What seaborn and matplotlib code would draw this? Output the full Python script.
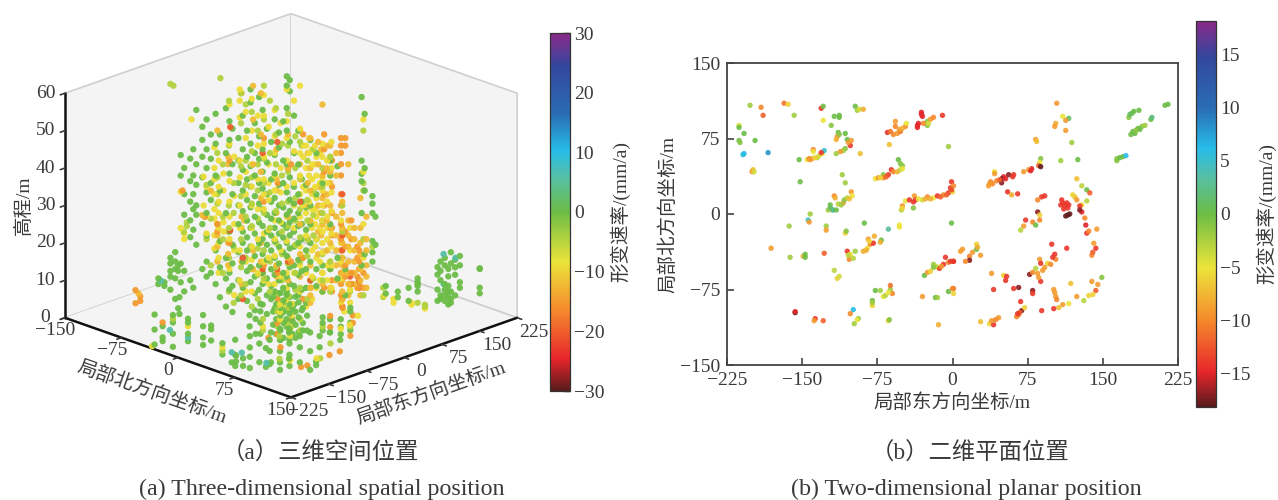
import matplotlib
matplotlib.use("Agg")
import matplotlib.pyplot as plt
import seaborn as sns
import pandas as pd
from matplotlib.colors import LinearSegmentedColormap, Normalize
from matplotlib.cm import ScalarMappable

# ---------- panel (b): east, north, rate ----------
plan_northwest = [(-213,88,-4.5),(-213,86,0),(-208,80,0),(-213,73,0),(-212,71,-1),(-197,73,0),(-202,108,-2),(-191,106,-10),(-189,98,-12),
 (-168,110,-11),(-164,109,-6),(-158,98,-2),(-208,60,6),(-209,59,6),(-184,61,8),(-199,44,-7),(-200,42,-9),(-198,42,-4),
 (-131,105,-14),(-129,107,0),(-118,97,0),(-113,98,0),(-113,96,0),(-121,88,-1),(-129,93,-5),(-97,107,0),(-95,103,-2),(-93,104,-4),(-89,104,-8),
 (-114,81,0),(-115,77,-9),(-116,74,-8),(-113,79,-1),(-107,80,0),(-105,74,0),(-101,73,-9),(-102,68,-14),(-104,71,-9),(-107,65,-1),(-109,63,-2),(-112,62,-9),(-116,60,-2),(-92,60,-7),
 (-145,54,-5),(-143,55,-10),(-139,64,-10),(-139,62,-5),(-140,55,-8),(-135,56,-3),(-133,58,-4),(-130,60,-5),(-128,63,5),(-131,61,-14),(-153,54,0),(-142,54,-9),(-137,56,-6)]
plan_north = [(-65,81,-14),(-62,82,-11),(-59,79,-10),(-55,80,-9),(-52,82,-11),(-47,87,-10),(-46,90,-5),(-57,92,-9),(-57,87,-10),(-53,84,-9),(-50,85,-8),(-63,69,-7),
 (-31,99,-15),(-30,97,-15),(-35,88,-15),(-34,90,-15),(-25,92,-1),(-25,88,-1),(-22,94,-9),(-19,96,-10),(-10,98,-14),(-29,90,-10),(-4,67,-2),(-31,101,-15),(-35,86,-15),(-24,90,-4),
 (-77,35,-5),(-74,36,-9),(-69,39,-1),(-69,36,-10),(-64,39,-14),(-61,44,-14),(-59,42,-10),(-55,42,-8),(-52,44,-3),(-50,48,-1),(-54,54,0),(-52,50,-1),(-50,45,-5),(-66,37,-12),(-72,36,-6),
 (-110,39,-2),(-107,31,-2),(-152,32,0)]
plan_midwest = [(-124,4,-2),(-120,4,-2),(-119,4,4),(-122,9,0),(-118,18,-10),(-114,10,-3),(-109,11,-9),(-108,14,-1),(-105,16,-3),(-101,22,-9),(-100,18,-5),(-103,15,-7),(-117,16,-8),(-122,6,1),(-116,4,0),(-111,9,-2),
 (-51,4,-3),(-50,8,-10),(-47,13,-5),(-43,14,-14),(-39,12,-14),(-39,6,-1),(-38,18,-9),(-37,14,-14),(-30,14,-4),(-25,17,-10),(-19,16,-5),(-15,18,-14),(-9,19,-10),(-4,21,-14),(-2,26,-14),(-1,32,-14),(1,28,-10),(0,22,-6),
 (-34,15,-5),(-27,15,-8),(-22,15,-8),(-12,17,-12),(-6,19,-12),(-1,24,-13),(-50,6,-6),
 (-53,-11,-5),(-53,-13,-5),(-64,-15,3),(-88,-9,0),(-1,-9,0),(-142,0,-2),(-163,-12,-2),(-144,-6,5),(-143,-8,-9),(-126,-12,-2),(-126,-16,-9),(-107,-19,-6),(-106,-17,-1)]
plan_southwest = [(-181,-34,-9),(-162,-43,-2),(-149,-42,-8),(-147,-40,0),(-147,-43,0),(-128,-39,-12),
 (-105,-37,-14),(-102,-40,-5),(-103,-45,-10),(-99,-44,-3),(-97,-37,-2),(-89,-37,-8),(-85,-34,-5),(-82,-30,-10),(-84,-25,-9),(-79,-29,-14),(-78,-22,-8),(-71,-26,0),(-72,-28,-8),(-104,-41,-3),(-86,-36,-8),(-83,-27,-6),
 (-118,-56,-3),(-115,-64,-6),(-113,-62,-4),
 (-28,-61,0),(-25,-58,-9),(-22,-57,-6),(-19,-50,-2),(-15,-53,-5),(-13,-54,-14),(-9,-50,-14),(-7,-43,-14),(-4,-48,-10),(1,-47,-14),(8,-37,-9),(-17,-52,-3),(-11,-52,-9),(-19,-53,-1),(-2,-47,-14),
 (-80,-91,-6),(-80,-86,0),(-77,-76,0),(-72,-76,-2),(-69,-82,-5),(-67,-81,-3),(-62,-75,-2),(-62,-71,-11),(-60,-79,-10),(-80,-88,-2),(-64,-78,-5),
 (-30,-82,-9),(-17,-83,0),(-15,-83,-2),(-4,-77,0),(1,-74,-11),(1,-79,-6),(-14,-110,-8),
 (-157,-98,-18),(-157,-97,-15),(-137,-104,-14),(-138,-106,-9),(-129,-106,-12),(-99,-95,6),(-102,-99,-10),(-94,-104,-1),(-95,-105,-5),(-98,-109,-2),(-64,-106,-6),(-63,-105,-1)]
plan_northeast = [(104,110,-9),(110,97,-5),(116,95,1),(113,93,-9),(103,90,-8),(102,87,-9),(113,83,-9),(83,74,-9),(84,72,-7),(119,71,-2),(108,53,-2),(125,54,0),(88,55,-1),(87,51,-5),(86,48,-12),(79,45,-15),(76,44,-9),(71,42,-9),(88,47,-18),(78,43,-15),
 (42,42,-5),(42,40,-9),(51,37,-15),(49,35,-17),(56,39,-17),(61,39,-14),(49,31,-17),(44,33,-10),(38,32,-10),(36,28,-9),(55,22,-14),(59,19,-8),(65,20,-14),(53,35,-15),(47,34,-12),(40,30,-10),(37,30,-9),(60,37,-14),
 (179,100,0),(176,96,-1),(186,103,0),(198,94,0),(199,96,2),(212,108,0),(215,109,0),(180,82,0),(185,85,0),(189,87,-1),(192,88,-2),(178,79,0),(182,80,0),(177,99,1),(181,102,0),(187,84,0),(183,83,-1),
 (164,55,-1),(170,57,0),(173,58,6),(164,53,-1),(167,56,0)]
plan_east = [(124,35,-7),(129,28,-3),(134,24,0),(137,21,-12),(110,11,-14),(112,8,-14),(114,11,-14),(115,-1,-18),(109,14,-14),(116,9,-14),(111,5,-14),(113,-2,-18),(117,0,-18),(108,9,-14),(115,6,-14),
 (122,17,-7),(124,14,-9),(134,13,-3),(129,9,-6),(127,8,-14),(129,2,-15),(132,-4,-10),(133,-11,-15),(134,-19,-14),(136,-17,-10),(144,-15,-9),(127,4,-17),(120,19,-6),
 (89,17,-14),(85,14,-10),(85,2,-17),(87,-1,-6),(87,-6,-10),(80,-8,-10),(73,-6,-14),(83,-11,0),(71,-12,-9),(68,-16,-3),(92,18,-14),
 (99,-30,-14),(114,-34,-14),(141,-29,-9),(143,-34,-14),(139,-41,-10),(102,-40,-14),(103,-45,-10),(95,-49,-6),(87,-45,-9),(88,-49,-14),(83,-54,-3),(85,-59,-9),(77,-60,-17),(90,-56,-9),(88,-67,-14),
 (98,-50,-10),(92,-53,-9),(100,-43,-14),(80,-58,-10),(86,-63,-9),(140,-38,-12)]
plan_southeast = [(24,-30,-6),(24,-35,0),(10,-35,-9),(17,-42,-10),(17,-46,-17),(28,-41,-9),(13,-47,-10),(1,-47,-14),(20,-38,-9),(25,-33,-8),
 (39,-59,-9),(51,-61,-6),(54,-62,-14),(53,-66,-14),(41,-75,-14),(61,-74,-14),(66,-73,-17),(80,-76,-17),(80,-79,-14),(0,-74,-10),
 (118,-69,-7),(139,-67,-9),(149,-63,-1),(145,-70,-9),(143,-76,-12),(140,-80,-6),(136,-81,-6),(124,-82,-9),(131,-86,-3),(116,-89,-5),(110,-90,-9),(106,-93,-7),(101,-94,-14),(101,-75,-9),(103,-82,-9),(102,-78,-9),(104,-85,-10),
 (68,-87,-14),(69,-96,-17),(66,-100,-10),(64,-102,-10),(72,-93,-6),(89,-96,-14),(67,-98,-12),(65,-99,-14),
 (28,-107,-7),(37,-109,-6),(41,-110,-14),(39,-106,-9),(46,-103,-9),(43,-105,-10)]

# ---------- panel (a): strands = (north, east, [heights]) at a common rate ----------
green_strands = [(-73,-110,[43.5,38,14.5,9.5]),(-71,-106,[40,33,27.5,12.5,7]),(-67,-100,[42.5,36.5,31,26,21.5,10]),(-65,-97,[45,38,33,29,23.5,8]),(-63,-94,[55.5,41,35.5,30,27.5,19.5]),
 (-59,-88,[51,47.5,43,37.5,25,13]),(-56,-84,[53,45,40,33.5,28,22,15,11]),(-53,-80,[49,42.5,36,31.5,12]),(-50,-75,[54.5,46.5,38,18,9]),(-47,-71,[49,34,20.5,13.5,5.5]),(-43,-65,[56,44,28,16,10.5,3]),
 (-41,-61,[52.5,47.5,38.5,23,12,7.5]),(-39,-58,[50.5,41,33,19.5,14.5,8.5,1.5]),(-35,-52,[48,42,36,30,25,17.5,10,5]),(-32,-48,[54,45,39.5,34,28.5,23,20,15,8]),(-29,-44,[50,43,37,31.5,26,21.5,18,12.5,4.5]),
 (-27,-40,[61,57.5,46.5,40.5,35,29.5,24,19,13.5,9.5]),(-24,-36,[52,44,38,32.5,27,22.5,16.5,11,6.5,2]),(-21,-32,[59,48.5,42.5,36,30.5,25.5,20,14,7.5]),(-19,-28,[55.5,45,39,34.5,29,24.5,21,17,12,9,3.5]),
 (-16,-24,[50.5,41.5,33,27.5,23,19.5,15.5,10.5,6,1]),(-13,-20,[47,37,31,26.5,22,18,13,8.5,5]),(-11,-16,[53,43.5,38.5,32,28,24,20.5,16,11.5,7,2.5]),(-8,-12,[49.5,45.5,35.5,30,26,22.5,19,14.5,10,6.5,3]),
 (-5,-8,[52.5,42,36,29.5,25,21.5,17.5,12,8,4,1.5]),(-3,-4,[64.5,62,56,50,41,33.5,27.5,24,20,16.5,11,7]),(-1,-1,[63.5,60.5,47,37.5,31.5,28.5,25.5,22,18.5,13.5,9,5.5,2]),(2,3,[54,44,35,30.5,26.5,23,19,14,8.5,3.5]),
 (5,7,[50,41,33,28,24.5,20,15.5,11.5,6]),(7,11,[46,37,31,25,21,16,12.5,7.5,2]),(10,15,[35.5,29.5,23.5,18,13,8,4]),(13,19,[47.5,30,25,20,15,10]),(17,25,[44,33,21,13,8.5]),(21,31,[36,26,14,7]),(26,39,[42,38,25,13]),
 (31,46,[40.5,16,10.5]),(36,54,[13,6]),(47,70,[59,42,38.5,36.5,28,14]),(49,73,[54.5,40,34,17]),(54,81,[32.5,30.5,28,20.5,17.5,15]),(56,84,[27,19.5]),
 (63,94,[8.5,6.5]),(71,106,[7,5.5]),(78,117,[8,4.5]),(84,126,[10.5,9.5,8.5,9,7]),(97,146,[13.5,11.5,7.5,4.5]),(99,149,[15,12.5,10,6,5]),(102,153,[16,14,9,7.5,6,4.5]),(104,157,[13,11,8.5,7,5.5,3.5]),
 (106,159,[17.5,14.5,7,5,4]),(109,163,[15.5,13.5,11.5,6]),(112,168,[16.5,14,9.5,8]),(125,188,[13.2,13,8,6.5]),(-88,-132,[10.5,9]),(-84,-126,[9.5,8.5]),(-80,-120,[16,14.5,12.5,11,7.5]),(-77,-115,[17.5,15,13,10.5,5]),(-75,-112,[14,12.5,2.5]),(-74,-111,[5.5,1])]
lime_strands = [(-80,-120,[62.5]),(-78,-117,[62]),(-47,-70,[64]),(-71,-107,[23]),(-69,-104,[24.5,25.5]),(-56,-84,[35.5,21]),(-53,-80,[26.5,14]),(-49,-73,[44,37.5,33,30.5,25]),(-45,-68,[41,27,21,12]),(-41,-62,[58,46,30,24,16,7]),(-38,-57,[36,28,19,4]),
 (-33,-50,[60,52,40.5,32.5,21,13.5,6]),(-30,-45,[57,42,35.5,27,16,9]),(-26,-39,[55,44.5,37.5,30.5,24.5,13,3]),(-22,-33,[50,41,34,26.5,18.5,11.5,5]),(-18,-27,[62,53,42.5,36,28,18,10.5]),(-14,-21,[58,44,33.5,24,15,7]),(-10,-15,[56,49,41,28.5,20,13.5,6.5]),
 (-6,-9,[46.5,38,30.5,23,17,10,4]),(-2,-3,[54.5,46,39,31,24.5,14.5,6]),(3,4,[48.5,40,32,26,19.5,12,7.5]),(6,9,[47,37.5,29,21.5,15,8]),(11,16,[42,31.5,26,21,16.5,5]),(15,22,[45,34,27.5,22,10.5]),(21,31,[40,35,28,17,10]),(26,39,[43,24,15,7]),(34,51,[30,23,16]),(39,59,[9,7]),(48,72,[50,36,34,21,6]),(54,81,[19]),(61,92,[8,5.5]),(84,126,[4]),(89,133,[3.5,3])]
yellow_strands = [(-73,-110,[33.7,24]),(-71,-106,[22.5,21]),(-66,-99,[53]),(-58,-87,[37.7,30]),(-56,-84,[35,27,22.5]),(-51,-76,[45.5,40,37,33,29,26.5,22,18.5]),(-48,-72,[42,35,31,28,24,20,16,12]),(-45,-67,[38.5,34,25.5,23]),(-41,-61,[57,46.5,36.5,31,27,21,13]),(-38,-56,[43,32.5,25,18,6]),
 (-34,-51,[61,58,53.5,42,37.5,30,24,18,10]),(-30,-45,[55,48,39,33,26,15,7]),(-26,-39,[58.5,50,41,35,30,24,19,15.5,7]),(-22,-33,[54,46,37,29,21,12]),(-18,-27,[59.5,54,46.5,43,37,33,29,22.5,15,10]),(-15,-22,[51,41,36,31.5,23.5,16,9]),(-11,-16,[55.5,48.5,44,38,34,26,21,16.5,9]),
 (-7,-10,[52,40,33.5,25.5,18,11]),(-3,-4,[61,52.5,48,42,35,27,20.5,12,8]),(2,3,[58,44.5,36,30,24,12]),(6,9,[62,50.5,44,38,33,27,19,14,7]),(8,12,[46,43,35,30]),(10,15,[46,40,34,28,22,12,3]),(12,18,[48,44,38,31,26]),(14,21,[45,41,37,33,29,24,18,11,5]),(16,24,[46,41,35,29,25,19]),(17,25,[43,38,32,27,21,16,8]),(19,29,[44,36,28,24,15,10]),
 (21,31,[46.5,43,37.5,34,30,26,23,20,17.5,12,7]),(24,36,[42,36,31,27,24,21,18,14,10]),(27,40,[47,40,33.5,28.5,22.5,19,14,8]),(33,50,[26,20,15,10.5,4]),(39,59,[24,18,7.5,4]),(48,72,[53,39,25,16]),(62,93,[6]),(68,102,[5,4]),(80,120,[4,3.5]),(89,133,[2.5])]
amber_strands = [(-59,-88,[27.4]),(-53,-80,[34]),(-49,-73,[25,22,19,15,50]),(-42,-62,[43,41,23,20,17,14]),(-33,-49,[27,24,15,9,60]),(-25,-38,[62,53,41,18,13]),(-20,-30,[60,49,39,32,20,15]),(-10,-14,[45,37,34,28,14,11]),(-2,-3,[49,40,27,16,10]),(6,9,[50,41,37,25,17,11]),
 (11,17,[44,36,30,21]),(13,19,[48,40,34,26,14,8,6,4]),(18,27,[47,41,35,30,23,17]),(20,30,[45,35,28,22]),(21,31,[57,38,32,25,12,9]),(24,35,[46,40,33,26,18]),(26,39,[46,43,39,36,30,24,20,15,13,8]),(30,45,[44,38,27,22,18,14,10]),(34,51,[31,28,24,20,16,14,12,10,7,5]),(38,57,[41,26,22,19,15,12,9,6]),(42,63,[24,21,18,15,12,9]),(46,69,[32,24,20,17,13,10,6]),(50,75,[27,21,18,14,11,8]),(-101,-152,[6.5])]
orange_strands = [(-103,-155,[7.4,3.9]),(-100,-150,[5.7,4.5]),(-72,-108,[34]),(-57,-86,[27]),(-49,-73,[25,23]),(-41,-61,[42,20]),(-31,-46,[26,16]),(-18,-27,[48,31,14]),(-9,-13,[36,12,5]),(0,0,[41,15]),(8,12,[49,16,5]),(13,20,[8,5]),(22,33,[49,45,39,33,30,8]),(27,41,[42,35,28,24,22,10,7]),
 (33,50,[48,46,44,41,38,33,30,25,21,18,15,12,9,6]),(36,54,[48,46,23,19,14,11]),(40,60,[26,21,12,9]),(44,66,[19,16,11,8]),(45,68,[18,15,13,9]),(48,72,[8,12])]
red_strands = [(-40,-61,[23.4,51]),(-32,-48,[16,5]),(-19,-28,[44,13,12]),(-9,-14,[47,13]),(-2,-3,[40,15]),(6,9,[31]),(13,19,[10]),(34,51,[33,22,18,5,3]),(39,59,[9,11]),(45,68,[10,8])]
teal_strands = [(-32,-48,[16]),(101,152,[17,9]),(109,164,[16]),(-86,-130,[10])]

green_low = [(59,-225,[8,5]),(66,-217,[3]),(73,-205,[2,4]),(67,-210,[4.5,3]),(92,-178,[11,3]),(104,-160,[11,4]),(90,-185,[7,2]),(120,-130,[2,3]),
 (33,-85,[12,8,4.5]),(35,-82,[10,6,2]),(38,-78,[13,9,7,3,0.5]),(40,-75,[11,5,1]),(42,-72,[12.5,8.5,6,4]),(44,-69,[10,7.5,3,0.5]),(46,-66,[9,5.5,2]),(48,-63,[12,8,4.5,1]),(50,-60,[10.5,6.5,2.5]),(53,-56,[9,5,3]),(56,-52,[7,3]),(24,-97,[8,5,2,10]),(21,-102,[6,2]),(17,-108,[7,4]),
 (66,-36,[6.5,5,3]),(71,-29,[6,2.5]),(78,-18,[6,4,2]),(84,-8,[5,3,9,8]),(4,-165,[6,5,2]),(0,-175,[9,6,3,1]),(-10,-190,[8,4,2,7]),(-20,-205,[9,4,0.5,7]),(-27,-215,[6,3,2]),(-33,-222,[9,5,1]),
 (68,-213,[9,5,2]),(78,-199,[10,7,4.5,1.5]),(84,-189,[8,3]),(91,-179,[9,6,2.5]),(98,-169,[12,9,6,3,1]),(104,-159,[12,8,5,2]),(111,-149,[10,7,3]),(118,-139,[11,6,1]),(124,-129,[10,7]),(131,-119,[11]),(138,-109,[9])]
lime_low = [(59,-225,[6]),(36,-81,[9.5,4,8]),(43,-70,[12,9,5]),(51,-58,[6,3]),(26,-95,[6,3]),(66,-36,[4]),(84,-8,[4]),(-20,-205,[8]),(98,-170,[10,4]),(124,-128,[4]),(131,-118,[8])]
yellow_low = [(59,-225,[7]),(122,-132,[4]),(38,-79,[10,8,6]),(41,-72,[11,9,5]),(45,-66,[7,10,4]),(26,-95,[4]),(-35,-224,[0.5]),(-10,-190,[6]),(80,-14,[8]),(90,-2,[7]),(104,-158,[10,3.5]),(138,-108,[12]),(144,-99,[13])]
orange_low = [(115,-140,[2]),(110,-145,[1.5]),(72,-30,[7,4]),(79,-16,[9]),(86,-6,[7,5]),(45,-66,[2,6]),(36,-81,[5,2]),(30,-90,[1]),(-27,-215,[7]),(131,-120,[5]),(138,-110,[6]),(144,-98,[10]),(98,-168,[7])]
teal_low = [(66,-217,[5.7]),(72,-206,[5.5]),(-22,-208,[5]),(-10,-190,[3]),(90,-184,[3])]

axis_ticks_north = [-150, -75, 0, 75, 150]
axis_ticks_east = [-225, -150, -75, 0, 75, 150, 225]
axis_ticks_height = [0, 10, 20, 30, 40, 50, 60]
cbar_ticks_a = [-30, -20, -10, 0, 10, 20, 30]
cbar_ticks_b = [-15, -10, -5, 0, 5, 10, 15]
rate_green, rate_lime, rate_yellow, rate_amber, rate_orange, rate_red, rate_teal = 0, -4.5, -9, -12, -15, -20, 6

sns.set_theme(style="white")
FONT = ["Liberation Serif", "Noto Sans CJK SC", "DejaVu Sans"]
INK = "#3a3a3a"
plt.rcParams["font.family"] = FONT
plt.rcParams["axes.unicode_minus"] = True
plt.rcParams["axes3d.automargin"] = False

cmap = LinearSegmentedColormap.from_list("rate", [
    (0.0, "#5a1a1c"), (0.09, "#e8262b"), (0.225, "#f58a2c"), (0.36, "#ece43a"), (0.5, "#6cbd45"),
    (0.60, "#55bfa8"), (0.67, "#27bde8"), (0.775, "#2a6db5"), (0.91, "#33479c"), (1.0, "#8a2a8a")])

fig = plt.figure(figsize=(12.78, 5), dpi=100)
W, H = 1278, 500
FS = 14

# ---------- 3-D panel ----------
ax3 = fig.add_axes([35.8/W, 39.3/H, 497/W, 497/H], projection="3d", proj_type="ortho")
ax3.patch.set_alpha(0)
ax3.view_init(elev=20.6, azim=-45)
ax3.set_xlim(-150, 150, view_margin=0)
ax3.set_ylim(-225, 225, view_margin=0)
ax3.set_zlim(0, 60, view_margin=0)
ax3.grid(False)

rows = []
for group, rate in [(green_strands, rate_green), (lime_strands, rate_lime), (yellow_strands, rate_yellow), (amber_strands, rate_amber),
                    (orange_strands, rate_orange), (red_strands, rate_red), (teal_strands, rate_teal),
                    (green_low, rate_green), (lime_low, rate_lime), (yellow_low, rate_yellow),
                    (orange_low, rate_orange), (teal_low, rate_teal)]:
    for n, e, zs in group:
        for z in zs:
            rows.append((n, e, z, rate))
space = pd.DataFrame(rows, columns=["north", "east", "height", "rate"])
# mix the colours so no class is painted wholly on top of another
space = space.sort_values("height", kind="stable")
norm_a = Normalize(-30, 30)
ax3.scatter(space["north"], space["east"], space["height"], c=space["rate"], cmap=cmap, norm=norm_a,
            s=21, linewidths=0, alpha=0.95, depthshade=False)

ax3.set_xticks(axis_ticks_north)
ax3.set_yticks(axis_ticks_east)
ax3.set_zticks(axis_ticks_height)
ax3.zaxis.set_ticks_position("lower")
ax3.zaxis.set_label_position("lower")
ax3.zaxis.set_rotate_label(False)
for axis in (ax3.xaxis, ax3.yaxis, ax3.zaxis):
    axis.set_pane_color((0.955, 0.955, 0.955, 1.0))
    axis.pane.set_edgecolor("#cfcfcf")
    axis.pane.set_linewidth(1.2)
    axis.line.set_color("#111111")
    axis.line.set_linewidth(1.8)
    axis._axinfo["tick"]["inward_factor"] = 0.25
    axis._axinfo["tick"]["outward_factor"] = 0.0
    axis._axinfo["tick"]["linewidth"] = {True: 1.2, False: 0.8}
    axis._axinfo["tick"]["color"] = "#111111"
ax3.xaxis.set_tick_params(labelsize=FS, labelcolor=INK, pad=0, colors=INK)
ax3.yaxis.set_tick_params(labelsize=FS, labelcolor=INK, pad=6, colors=INK)
ax3.zaxis.set_tick_params(labelsize=FS, labelcolor=INK, pad=0, colors=INK)
for t in ax3.xaxis.get_major_ticks() + ax3.zaxis.get_major_ticks():
    t.label1.set_va("center")
for t in ax3.yaxis.get_major_ticks():
    t.label1.set_va("bottom")
ax3.set_xlabel("局部北方向坐标/m", fontsize=FS, color=INK, labelpad=0)
ax3.set_ylabel("局部东方向坐标/m", fontsize=FS, color=INK, labelpad=1)
ax3.set_zlabel("高程/m", fontsize=FS, color=INK, labelpad=-4, rotation=90)

# ---------- 2-D panel ----------
plan = pd.DataFrame(plan_northwest + plan_north + plan_midwest + plan_southwest + plan_northeast + plan_east + plan_southeast,
                    columns=["east", "north", "rate"])
ax2 = fig.add_axes([727/W, (H-365)/H, 451/W, 302/H])
norm_b = Normalize(-18.2, 18.2)
sns.scatterplot(data=plan, x="east", y="north", hue="rate", hue_norm=norm_b, palette=cmap, legend=False,
                s=15, linewidth=0, alpha=0.9, ax=ax2)
ax2.set_xlim(-225, 225)
ax2.set_ylim(-150, 150)
ax2.set_xticks(axis_ticks_east)
ax2.set_yticks(axis_ticks_north)
ax2.tick_params(direction="in", length=5, width=1.1, color="#333333", labelsize=FS, labelcolor=INK, pad=5,
                left=True, bottom=True)
for s in ax2.spines.values():
    s.set_color("#444444")
    s.set_linewidth(1.3)
ax2.set_xlabel("局部东方向坐标/m", fontsize=FS, color=INK, labelpad=3)
ax2.set_ylabel("局部北方向坐标/m", fontsize=FS, color=INK, labelpad=2)

# ---------- colour bars ----------
def bar(left, top, bottom, norm, ticks, label, pad):
    cax = fig.add_axes([left/W, (H-bottom)/H, 20/W, (bottom-top)/H])
    cb = fig.colorbar(ScalarMappable(norm=norm, cmap=cmap), cax=cax, ticks=ticks)
    cb.ax.tick_params(direction="in", length=5, width=1.0, color="#222222", labelsize=FS, labelcolor=INK, pad=3)
    cb.outline.set_linewidth(0.9)
    cb.outline.set_edgecolor("#333333")
    cb.set_label(label, fontsize=FS, color=INK, labelpad=pad)
bar(550, 33, 391, norm_a, cbar_ticks_a, "形变速率/(mm/a)", 4)
bar(1196, 21, 407, norm_b, cbar_ticks_b, "形变速率/(mm/a)", 4)

# ---------- captions ----------
for x, y, t, fs in [(320, 454, "（a）三维空间位置", 16.8), (322, 489, "(a) Three-dimensional spatial position", 17.3),
                    (970, 454, "（b）二维平面位置", 16.8), (966, 489, "(b) Two-dimensional planar position", 17.3)]:
    fig.text(x/W, 1-y/H, t, ha="center", va="center", fontsize=fs, color=INK)

fig.savefig("out.png", dpi=100)
